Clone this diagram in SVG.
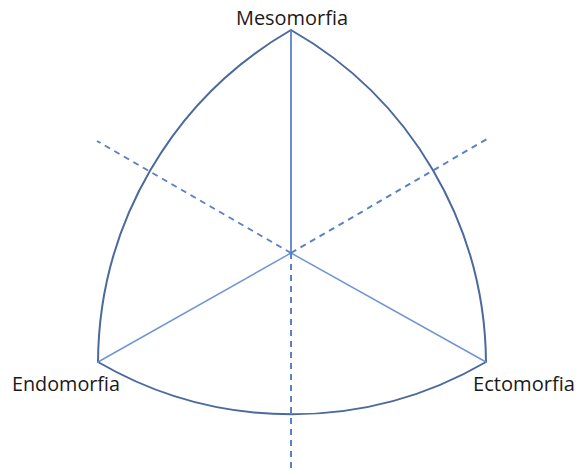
<svg xmlns="http://www.w3.org/2000/svg" width="577" height="470" viewBox="0 0 577 470">
<style>
.lbl{font-family:"Open Sans","Liberation Sans",sans-serif;font-size:20px;fill:#1a1a1a}
.outline{fill:none;stroke:#4a6a9e;stroke-width:2}
.spoke{stroke:#5a82c2;stroke-width:1.8;fill:none}
.spoke2{stroke:#7096d2;stroke-width:1.5;fill:none}
.dash{stroke:#5a82c2;stroke-width:2;stroke-dasharray:6 5;fill:none}
</style>
<rect width="577" height="470" fill="#ffffff"/>
<g id="connectors">
<path class="outline" d="M291,30 A386,386 0 0 0 98,362 A386,386 0 0 0 486,362 A386,386 0 0 0 291,30 Z"/>
<line class="spoke" x1="291" y1="30" x2="291" y2="253"/>
<line class="spoke2" x1="291" y1="253" x2="98" y2="362"/>
<line class="spoke2" x1="291" y1="253" x2="486" y2="362"/>
<line class="dash" x1="291" y1="253" x2="291" y2="468"/>
<line class="dash" x1="291" y1="253" x2="97" y2="141"/>
<line class="dash" x1="291" y1="253" x2="487" y2="139"/>
</g>
<g id="mesomorfia"><text class="lbl" x="236" y="25" textLength="112" lengthAdjust="spacingAndGlyphs">Mesomorfia</text></g>
<g id="endomorfia"><text class="lbl" x="12" y="391" textLength="108" lengthAdjust="spacingAndGlyphs">Endomorfia</text></g>
<g id="ectomorfia"><text class="lbl" x="473" y="391" textLength="102" lengthAdjust="spacingAndGlyphs">Ectomorfia</text></g>
</svg>
